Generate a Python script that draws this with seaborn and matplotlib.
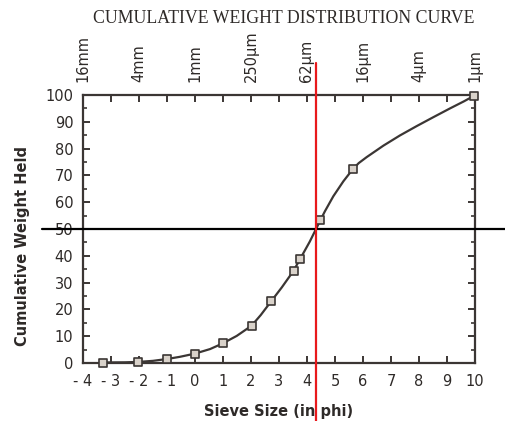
import matplotlib
matplotlib.use("Agg")
import matplotlib.pyplot as plt
import seaborn as sns
import pandas as pd

# --- data ---
phi_points = [-3.28, -2.02, -0.99, 0.0, 0.99, 2.02, 2.72, 3.52, 3.76, 4.48, 5.65, 9.95]
pct_points = [0.1, 0.3, 1.5, 3.5, 7.3, 13.9, 23.0, 34.4, 38.9, 53.3, 72.5, 99.6]
# values (markers plus points between them)
curve_phi = [-3.28, -2.5, -2.02, -1.5, -0.99, -0.54, 0.0, 0.54, 0.99, 1.49, 2.02, 2.35,
             2.72, 3.1, 3.52, 3.76, 4.1, 4.48, 4.64, 4.94, 5.30, 5.65, 5.85, 6.13,
             6.73, 7.32, 7.92, 8.51, 9.11, 9.6, 9.95]
curve_pct = [0.2, 0.25, 0.4, 0.8, 1.5, 2.3, 3.5, 5.2, 7.3, 10.1, 13.9, 17.9,
             23.0, 28.2, 34.4, 38.9, 45.3, 53.3, 56.6, 62.2, 67.8, 72.5, 74.6, 76.8,
             81.1, 84.9, 88.4, 91.7, 95.0, 97.6, 99.6]

x_ticks = [-4, -3, -2, -1, 0, 1, 2, 3, 4, 5, 6, 7, 8, 9, 10]
x_ticklabels = ["- 4", "- 3", "- 2", "- 1", "0", "1", "2", "3", "4", "5", "6", "7", "8", "9", "10"]
y_ticks = [0, 10, 20, 30, 40, 50, 60, 70, 80, 90, 100]
y_minor = [5, 15, 25, 35, 45, 55, 65, 75, 85, 95]
top_ticks = [-4, -2, 0, 2, 4, 6, 8, 10]
top_labels = ["16mm", "4mm", "1mm", "250µm", "62µm", "16µm", "4µm", "1µm"]
median_phi = 4.32
median_pct = 50

title = "CUMULATIVE WEIGHT DISTRIBUTION CURVE"
xlabel = "Sieve Size (in phi)"
ylabel = "Cumulative Weight Held"

sns.set_style("ticks")
plt.rcParams["font.family"] = ["DejaVu Sans"]

ink = "#3b3634"
txt = "#2e2a28"
fig = plt.figure(figsize=(5.06, 4.21), dpi=100)
ax = fig.add_axes([0.164, 0.1378, 0.7747, 0.6366])

curve_df = pd.DataFrame({"phi": curve_phi, "pct": curve_pct})
pts_df = pd.DataFrame({"phi": phi_points, "pct": pct_points})

sns.lineplot(data=curve_df, x="phi", y="pct", ax=ax, color=ink, linewidth=1.6,
             sort=True, estimator=None, zorder=3)
sns.scatterplot(data=pts_df, x="phi", y="pct", ax=ax, marker="s", s=38,
                facecolor="#d9d2ca", edgecolor=ink, linewidth=1.2, zorder=4, clip_on=False)

ax.set_xlim(-4, 10)
ax.set_ylim(0, 100)
ax.set_xticks(x_ticks)
ax.set_xticklabels(x_ticklabels)
ax.set_yticks(y_ticks)
ax.set_yticks(y_minor, minor=True)
ax.tick_params(axis="both", which="major", direction="in", length=5, width=1.4,
               color=ink, labelsize=10.5, labelcolor=txt, top=True, right=True)
ax.tick_params(axis="x", pad=8)
ax.tick_params(axis="y", pad=7)
ax.tick_params(axis="y", which="minor", direction="in", length=3, width=1.2,
               color=ink, right=True, left=True)
for s in ax.spines.values():
    s.set_visible(True)
    s.set_color(ink)
    s.set_linewidth(1.6)

ax.set_xlabel(xlabel, fontsize=10.5, fontweight="bold", color=txt, labelpad=11)
ax.set_ylabel(ylabel, fontsize=10.5, fontweight="bold", color=txt)
ax.yaxis.set_label_coords(-0.135, 0.437)

top = ax.secondary_xaxis("top")
top.set_xticks(top_ticks)
top.set_xticklabels(top_labels, rotation=90, fontsize=10.5, color=txt)
top.tick_params(axis="x", length=0, pad=9)
top.spines["top"].set_visible(False)

fig.text(0.561, 0.957, title, ha="center", va="center", fontsize=12.8,
         family=["Liberation Serif", "DejaVu Serif"], color=txt)

ax.axhline(median_pct, xmin=-0.105, xmax=1.08, color="black", linewidth=1.6,
           clip_on=False, zorder=5)
ax.axvline(median_phi, ymin=-0.22, ymax=1.12, color="#e8191c", linewidth=1.6,
           clip_on=False, zorder=6)

fig.savefig("out.png", dpi=100)
